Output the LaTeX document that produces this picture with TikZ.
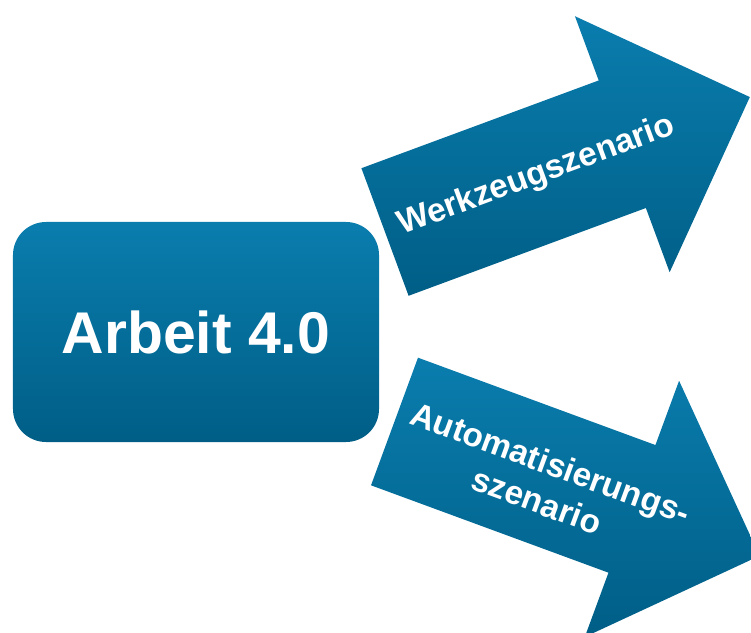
\documentclass[tikz,border=0pt]{standalone}
\usepackage{fontspec}
\setmainfont{Liberation Sans}
\usepackage{tikz}

\definecolor{hellblau}{HTML}{0A7DAE}
\definecolor{dunkelblau}{HTML}{005E86}

\tikzset{
  blau/.style={top color=hellblau, bottom color=dunkelblau, draw=none},
  kasten/.style={blau, rounded corners=0.66cm, minimum width=7.32cm,
    minimum height=4.4cm, text=white, font=\bfseries\fontsize{33.5}{40}\selectfont},
  pfeiltext/.style={text=white, align=center, inner sep=0pt,
    font=\bfseries\fontsize{19}{22.8}\selectfont}
}

\begin{document}
\begin{tikzpicture}
    \useasboundingbox (0,0) rectangle (15.02,12.64);
    \clip (0,0) rectangle (15.02,12.64);

    \node[kasten] (arbeit) at (3.92,6.0) {Arbeit 4.0};

    % oberer Pfeil
    \begin{scope}[shift={(7.70,8.00)}, rotate=20.3]
        \shade[blau] (0,-1.36) -- (5.06,-1.36) -- (5.06,-2.73) -- (7.78,0)
            -- (5.06,2.73) -- (5.06,1.36) -- (0,1.36) -- cycle;
        \node[pfeiltext, rotate=20.3] (werkzeug) at (3.23,0) {Werkzeugszenario};
    \end{scope}

    % unterer Pfeil
    \begin{scope}[shift={(7.89,4.21)}, rotate=-20.2]
        \shade[blau] (0,-1.36) -- (5.06,-1.36) -- (5.06,-2.73) -- (7.78,0)
            -- (5.06,2.73) -- (5.06,1.36) -- (0,1.36) -- cycle;
        \node[pfeiltext, rotate=-20.2] (automat) at (3.22,-0.1) {Automatisierungs-\\szenario};
    \end{scope}
\end{tikzpicture}
\end{document}
